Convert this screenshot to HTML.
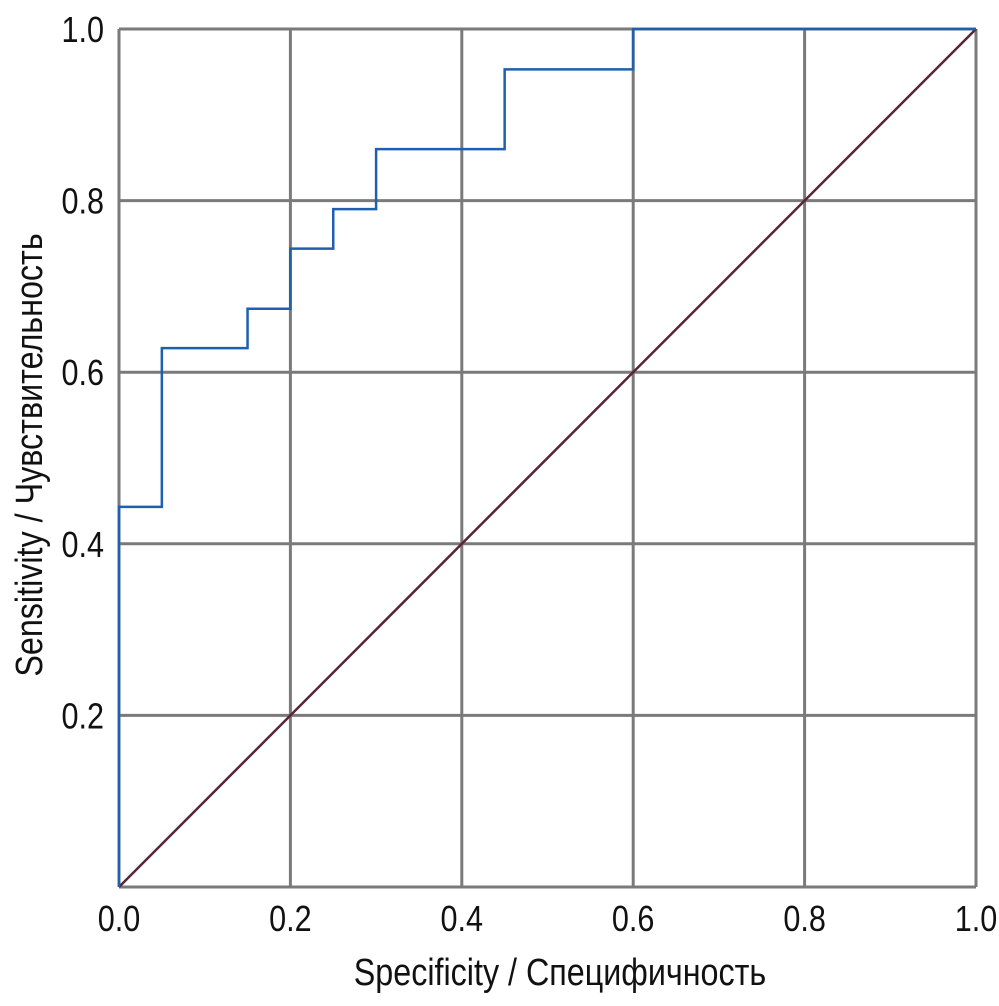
<!DOCTYPE html>
<html><head><meta charset="utf-8"><style>
body{margin:0;background:#fff;}
svg text{font-family:"Liberation Sans",sans-serif;fill:#111;}
</style></head><body>
<svg width="999" height="1001" viewBox="0 0 999 1001">
<g id="grid"></g>
<g id="ticks"></g>
<g id="series"></g>
<text x="560" y="985" font-size="38" text-anchor="middle" transform="translate(560,0) scale(0.85,1) translate(-560,0)">Specificity / Специфичность</text>
<text x="0" y="0" font-size="38" text-anchor="middle" transform="translate(42,455) rotate(-90) scale(0.85,1)">Sensitivity / Чувствительность</text>
</svg>
<script>
const tickValues=[0,0.2,0.4,0.6,0.8,1.0];
const xTickLabels=["0.0","0.2","0.4","0.6","0.8","1.0"];
const yTickLabels=["","0.2","0.4","0.6","0.8","1.0"];
const rocX=[0,0,0.05,0.05,0.15,0.15,0.2,0.2,0.25,0.25,0.3,0.3,0.45,0.45,0.6,0.6,1.0];
const rocY=[0,0.443,0.443,0.628,0.628,0.674,0.674,0.744,0.744,0.79,0.79,0.86,0.86,0.953,0.953,1.0,1.0];
const refX=[0,1];
const refY=[0,1];
const X0=119,X1=976,Y0=887,Y1=29;
const sx=v=>X0+v*(X1-X0), sy=v=>Y0-v*(Y0-Y1);
const NS="http://www.w3.org/2000/svg";
const grid=document.getElementById('grid'),ticks=document.getElementById('ticks'),series=document.getElementById('series');
function mk(tag,attrs,parent){const e=document.createElementNS(NS,tag);for(const k in attrs)e.setAttribute(k,attrs[k]);parent.appendChild(e);return e;}
tickValues.forEach((v,i)=>{
 const gv=mk('line',{x1:sx(v),x2:sx(v),y1:Y1,y2:Y0,stroke:'#7a7a7a','stroke-width':3},grid);
 
 
 const gh=mk('line',{x1:X0,x2:X1,y1:sy(v),y2:sy(v),stroke:'#7a7a7a','stroke-width':3},grid);
 
 
 const tx=mk('text',{x:sx(v),y:931,'font-size':36,'text-anchor':'middle',transform:`translate(${sx(v)},0) scale(0.85,1) translate(${-sx(v)},0)`},ticks);
 tx.textContent=xTickLabels[i];
 
 
 if(yTickLabels[i]){
  const ty=mk('text',{x:104,y:sy(v)+13,'font-size':36,'text-anchor':'end',transform:`translate(104,0) scale(0.85,1) translate(-104,0)`},ticks);
  ty.textContent=yTickLabels[i];
  
  
 }
});
const ref=mk('polyline',{points:refX.map((x,i)=>sx(x)+','+sy(refY[i])).join(' '),fill:'none',stroke:'#5a2438','stroke-width':2.5},series);


const roc=mk('polyline',{points:rocX.map((x,i)=>sx(x)+','+sy(rocY[i])).join(' '),fill:'none',stroke:'#1f5fb0','stroke-width':2.5},series);


</script>
</body></html>
